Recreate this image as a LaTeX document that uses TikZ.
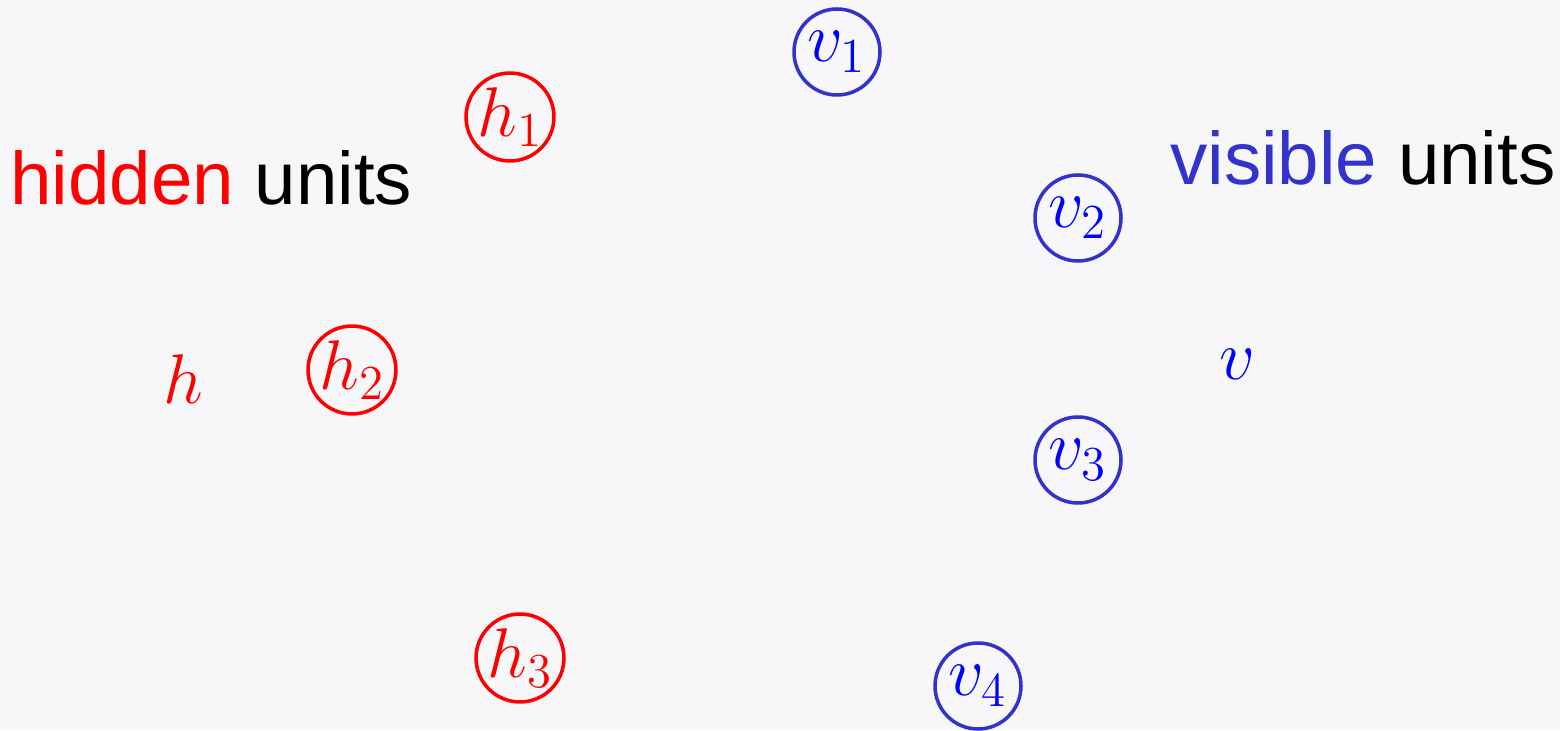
\documentclass[tikz,border=0pt]{standalone}
\usepackage{fontspec}
\setsansfont{Liberation Sans}
\definecolor{bgcol}{HTML}{F7F7FA}
\definecolor{visblue}{HTML}{3333CC}
\newcommand{\unitlab}[1]{\scalebox{1.93}{$#1$}}
\begin{document}
\begin{tikzpicture}

%unites
\tikzset{
    hid/.style={circle, draw=red, line width=2pt, minimum size=1.72cm, inner sep=0pt, text=red},
    vis/.style={circle, draw=visblue, line width=2pt, minimum size=1.72cm, inner sep=0pt, text=blue},
    big/.style={font=\fontsize{20.74}{24}\selectfont},
    word/.style={font=\sffamily\fontsize{42.4}{52}\selectfont, inner sep=0pt, anchor=base west}
}

\useasboundingbox (0,0) rectangle (31.2,14.6);
\fill[bgcol] (0,0) rectangle (31.2,14.6);

\node[hid,big] (h1) at (10.2,12.26) {\unitlab{h_1}};
\node[hid,big] (h2) at (7.04,7.2) {\unitlab{h_2}};
\node[hid,big] (h3) at (10.4,1.44) {\unitlab{h_3}};

\node[vis,big] (v1) at (16.74,13.56) {\unitlab{v_1}};
\node[vis,big] (v2) at (21.56,10.24) {\unitlab{v_2}};
\node[vis,big] (v3) at (21.56,5.4) {\unitlab{v_3}};
\node[vis,big] (v4) at (19.56,0.88) {\unitlab{v_4}};

\node[big, text=red, anchor=base, inner sep=0pt] (hvec) at (3.66,6.52) {\unitlab{h}};
\node[big, text=blue, anchor=base, inner sep=0pt] (vvec) at (24.74,7.0) {\unitlab{v}};

\node[word] (hidtxt) at (0.2,10.5) {\textcolor{red}{hidden} units};
\node[word] (vistxt) at (23.4,10.9) {\textcolor{visblue}{visible} units};

\end{tikzpicture}
\end{document}
